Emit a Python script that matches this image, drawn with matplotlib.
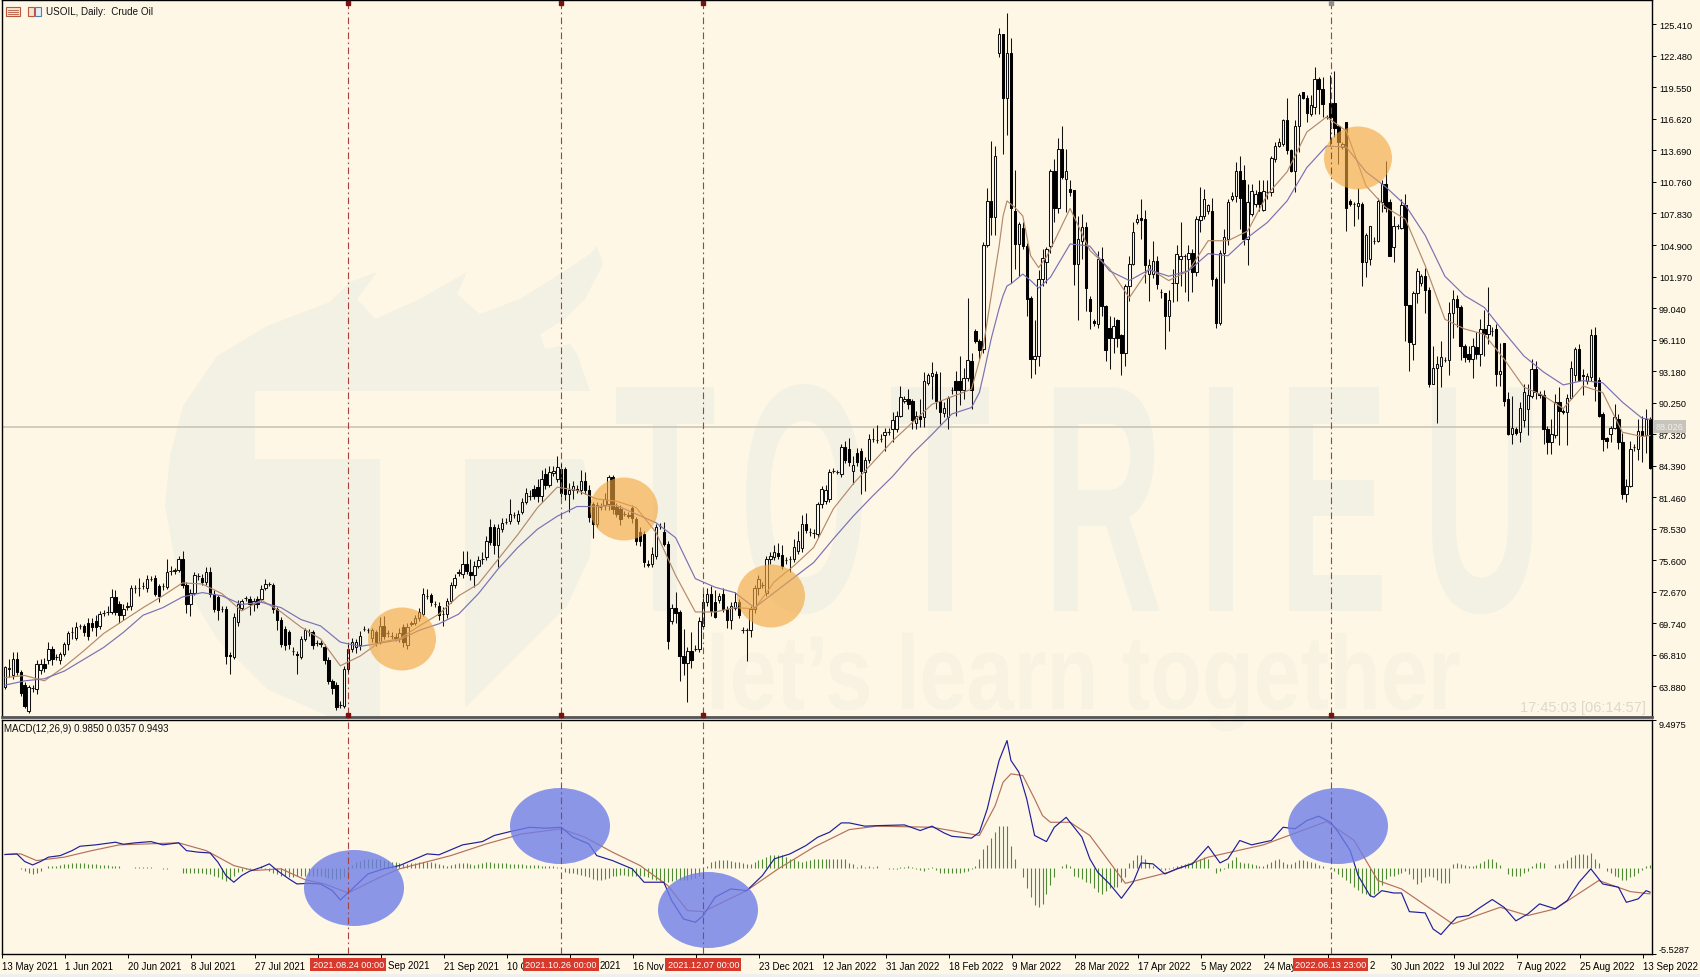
import matplotlib
matplotlib.use('Agg')
import matplotlib.pyplot as plt
from matplotlib.patches import Ellipse, Rectangle, Polygon
from matplotlib.patheffects import AbstractPathEffect
from matplotlib.transforms import Affine2D

BG = '#FEF7E6'
WM = '#F3F1E3'
FONT = ['Liberation Sans', 'DejaVu Sans']

# candles, 10 bars per row
opens = [
    63.8, 65.5, 64.9, 66.4, 65.2, 64.0, 61.6, 63.7, 63.6, 65.4,
    66.0, 66.3, 67.4, 66.6, 66.3, 66.9, 67.8, 68.9, 68.4, 69.5,
    69.5, 69.8, 69.8, 70.0, 69.5, 70.7, 70.8, 70.8, 72.2, 71.5,
    70.5, 71.3, 71.4, 73.0, 73.0, 73.2, 73.0, 73.9, 74.0, 73.2,
    73.2, 73.1, 74.6, 74.6, 74.7, 75.7, 73.3, 71.5, 72.6, 74.1,
    74.0, 73.6, 74.5, 72.5, 72.2, 71.1, 71.1, 66.8, 66.6, 69.9,
    71.2, 72.1, 72.0, 71.5, 72.0, 72.0, 73.0, 73.4, 73.3, 71.1,
    70.1, 69.2, 68.9, 67.2, 66.9, 66.6, 68.3, 68.9, 68.9, 67.9,
    67.8, 67.5, 66.3, 64.4, 64.0, 62.2, 62.1, 65.5, 67.4, 67.5,
    67.7, 69.2, 69.1, 68.4, 68.9, 68.0, 69.5, 68.8, 68.6, 68.5,
    68.4, 69.4, 67.7, 69.7, 69.8, 70.2, 70.6, 72.3, 72.4, 71.5,
    71.4, 70.6, 70.6, 71.8, 73.3, 74.4, 74.3, 75.3, 74.5, 74.2,
    75.1, 75.7, 75.9, 78.7, 78.7, 77.0, 78.5, 79.2, 79.3, 79.8,
    79.3, 80.1, 81.0, 81.6, 82.2, 82.4, 81.6, 83.6, 82.6, 83.7,
    83.2, 84.1, 84.1, 81.8, 82.1, 82.2, 82.1, 83.0, 82.1, 80.8,
    79.0, 80.6, 80.7, 80.8, 83.3, 80.6, 80.4, 79.9, 79.8, 80.5,
    79.4, 78.2, 78.0, 75.3, 75.3, 76.0, 78.8, 78.2, 77.1, 70.0,
    71.2, 70.8, 66.7, 66.1, 67.2, 67.4, 67.4, 69.5, 71.7, 72.5,
    71.7, 71.9, 72.5, 71.1, 70.1, 71.2, 71.7, 69.1, 69.1, 69.1,
    71.1, 73.0, 73.3, 72.6, 75.7, 75.9, 76.3, 76.1, 75.6, 75.7,
    75.7, 76.5, 76.7, 79.0, 78.2, 78.1, 78.0, 80.8, 81.1, 81.3,
    83.9, 83.8, 83.6, 86.1, 85.9, 83.9, 85.6, 85.8, 83.8, 84.9,
    86.9, 86.8, 86.9, 87.2, 87.5, 87.8, 87.8, 89.0, 90.4, 90.6,
    90.4, 88.4, 89.0, 88.9, 92.1, 92.7, 92.9, 90.4, 89.3, 88.9,
    91.4, 92.3, 92.3, 91.4, 92.5, 94.1, 96.9, 96.0, 95.2, 104.9,
    109.0, 107.5, 122.7, 124.5, 118.6, 122.7, 108.1, 105.0, 106.5, 104.8,
    100.0, 94.3, 94.6, 101.7, 103.3, 104.8, 111.8, 108.3, 113.8, 111.0,
    110.1, 110.0, 103.1, 105.3, 106.6, 99.9, 97.8, 97.6, 103.6, 99.2,
    97.2, 96.3, 97.9, 96.5, 94.9, 101.1, 103.1, 107.0, 107.4, 107.3,
    102.2, 102.2, 103.4, 100.5, 100.4, 98.3, 101.4, 101.4, 103.6, 103.9,
    103.6, 104.2, 102.4, 107.2, 107.6, 108.1, 108.1, 101.7, 97.7, 104.2,
    105.5, 109.2, 109.5, 111.8, 110.9, 105.5, 107.8, 108.7, 109.8, 108.2,
    109.8, 109.8, 112.9, 114.1, 114.3, 116.5, 113.7, 111.8, 116.0, 119.1,
    118.6, 117.1, 117.7, 120.3, 119.4, 116.8, 118.1, 118.1, 116.0, 114.0,
    116.3, 109.0, 108.7, 108.5, 108.7, 103.3, 103.6, 105.3, 105.3, 108.9,
    110.6, 108.9, 104.7, 106.7, 106.5, 108.6, 99.3, 95.7, 100.4, 101.4,
    102.0, 100.7, 92.0, 93.5, 93.7, 94.2, 94.2, 98.6, 99.9, 99.1,
    95.5, 94.8, 94.3, 95.4, 94.8, 97.1, 96.6, 96.9, 97.1, 92.9,
    95.8, 90.6, 87.3, 87.8, 87.5, 88.6, 89.7, 90.9, 93.4, 91.1,
    91.0, 87.8, 86.6, 87.2, 90.3, 89.5, 89.4, 90.7, 92.8, 95.2,
    92.8, 92.3, 92.6, 96.5, 92.4, 89.2, 87.0, 87.3, 87.9, 88.7,
    86.6, 81.8, 82.5, 86.1, 85.9, 87.6, 87.2, 88.7,
]
highs = [
    65.8, 66.4, 67.1, 67.1, 65.4, 64.3, 64.0, 64.0, 66.3, 66.4,
    66.5, 68.0, 67.6, 66.9, 67.1, 68.0, 69.0, 69.4, 69.9, 69.7,
    69.7, 70.2, 70.2, 70.5, 70.9, 71.0, 71.4, 72.9, 72.8, 71.8,
    71.5, 71.7, 73.3, 73.3, 74.0, 73.6, 74.2, 74.1, 74.2, 73.4,
    73.5, 75.7, 75.1, 74.9, 76.0, 76.5, 73.6, 72.9, 74.5, 74.4,
    74.3, 75.0, 75.0, 72.8, 72.4, 71.4, 71.4, 67.1, 70.7, 71.9,
    72.0, 72.3, 72.3, 72.1, 72.3, 73.3, 73.9, 73.6, 73.5, 71.3,
    70.3, 69.5, 69.1, 67.5, 67.2, 68.6, 69.3, 69.2, 69.1, 68.2,
    68.2, 67.8, 66.6, 64.6, 64.3, 62.5, 65.8, 67.8, 68.4, 68.3,
    69.0, 69.5, 69.3, 69.3, 69.1, 70.3, 70.4, 69.1, 68.9, 68.8,
    69.3, 69.7, 69.8, 70.0, 70.5, 71.2, 73.0, 72.9, 72.6, 71.8,
    71.7, 71.3, 72.1, 73.6, 74.3, 74.8, 76.5, 76.5, 75.7, 75.5,
    76.0, 76.4, 77.9, 79.4, 79.0, 79.0, 79.5, 79.5, 81.3, 80.1,
    80.3, 81.4, 82.3, 82.1, 82.6, 83.2, 84.0, 84.2, 84.4, 84.4,
    85.3, 84.6, 84.3, 82.8, 83.0, 82.6, 84.0, 83.8, 82.6, 81.0,
    81.0, 80.9, 81.9, 83.5, 83.5, 80.9, 80.7, 80.2, 80.1, 80.7,
    79.6, 78.7, 78.3, 75.6, 76.8, 79.0, 79.1, 79.2, 77.4, 71.5,
    72.7, 71.0, 69.2, 67.5, 68.9, 67.7, 70.3, 72.8, 73.0, 73.2,
    72.8, 72.6, 73.0, 71.4, 71.7, 72.7, 72.0, 69.4, 69.3, 71.4,
    73.3, 74.2, 73.6, 76.0, 76.4, 77.0, 77.2, 77.0, 75.9, 76.0,
    77.6, 78.3, 79.8, 80.0, 78.6, 78.5, 81.0, 82.5, 82.6, 84.1,
    84.2, 84.0, 86.4, 86.7, 87.0, 85.3, 86.0, 86.0, 85.2, 87.3,
    87.9, 88.2, 87.3, 87.9, 87.9, 89.4, 89.5, 91.8, 90.9, 91.5,
    90.6, 89.5, 90.6, 93.1, 93.0, 94.0, 93.2, 93.1, 90.3, 90.9,
    91.7, 93.2, 94.6, 93.5, 100.0, 94.9, 97.1, 96.2, 105.2, 110.2,
    114.6, 114.1, 125.1, 124.5, 126.5, 124.1, 111.9, 107.0, 107.0, 105.1,
    100.2, 97.9, 102.6, 104.5, 104.7, 112.0, 112.9, 114.8, 116.0, 113.8,
    110.9, 110.0, 107.6, 107.8, 107.0, 100.2, 98.0, 104.3, 104.7, 99.3,
    98.3, 98.2, 98.0, 96.6, 101.3, 103.9, 107.0, 107.8, 109.2, 108.2,
    103.6, 105.3, 103.9, 100.8, 100.4, 100.7, 102.7, 104.9, 107.0, 104.1,
    104.9, 104.5, 107.6, 110.3, 110.1, 108.7, 109.3, 101.9, 104.4, 106.4,
    109.2, 109.8, 112.6, 113.2, 112.3, 110.6, 110.6, 110.0, 110.9, 110.9,
    110.9, 113.2, 114.5, 114.8, 116.6, 118.6, 113.8, 116.5, 119.0, 119.1,
    118.8, 118.8, 121.4, 120.5, 120.5, 117.0, 120.7, 121.1, 116.1, 114.5,
    116.3, 109.2, 108.9, 110.2, 108.9, 106.0, 106.7, 105.6, 109.3, 110.9,
    112.7, 109.2, 107.6, 106.9, 109.2, 109.6, 99.3, 100.6, 102.8, 102.2,
    102.8, 101.0, 95.5, 94.6, 96.0, 94.5, 99.6, 100.7, 100.3, 99.3,
    95.7, 95.5, 96.3, 96.8, 98.0, 98.9, 101.0, 97.3, 97.6, 95.8,
    95.8, 91.2, 90.9, 88.0, 90.3, 92.0, 92.0, 94.3, 94.1, 91.3,
    91.4, 88.1, 88.7, 91.1, 91.7, 89.7, 91.1, 94.1, 95.4, 95.7,
    93.4, 93.0, 97.1, 97.3, 92.6, 89.4, 87.1, 88.1, 90.1, 89.2,
    87.4, 83.2, 86.7, 86.4, 88.7, 89.0, 89.7, 88.9,
]
lows = [
    63.6, 64.8, 64.6, 64.9, 63.0, 61.9, 61.4, 63.4, 63.2, 65.0,
    65.2, 66.0, 65.9, 66.3, 66.0, 66.7, 67.3, 68.3, 68.2, 69.2,
    68.6, 68.2, 69.0, 68.6, 69.2, 70.4, 70.5, 70.6, 70.5, 69.8,
    70.1, 71.0, 71.0, 72.6, 72.3, 72.9, 72.7, 73.7, 72.3, 71.7,
    72.8, 72.9, 74.2, 74.3, 74.5, 73.0, 70.7, 70.4, 72.4, 73.8,
    73.3, 73.3, 72.2, 70.8, 70.1, 70.8, 66.0, 65.0, 66.4, 69.5,
    71.0, 71.8, 70.5, 70.9, 71.2, 71.8, 72.8, 73.2, 70.7, 69.1,
    67.5, 67.3, 67.4, 66.8, 65.0, 66.4, 68.1, 68.6, 67.4, 67.6,
    67.5, 66.0, 64.1, 63.2, 61.7, 61.9, 61.9, 65.0, 67.1, 67.0,
    67.3, 69.0, 68.8, 68.0, 67.6, 67.8, 68.3, 68.5, 68.3, 68.1,
    68.0, 67.5, 67.4, 69.5, 69.6, 70.0, 70.4, 72.0, 71.4, 71.3,
    70.1, 69.5, 70.2, 71.6, 73.0, 74.1, 74.0, 74.3, 73.8, 73.1,
    74.9, 75.3, 75.6, 77.0, 76.2, 75.0, 78.2, 79.0, 79.0, 79.5,
    79.0, 79.9, 80.8, 81.2, 81.3, 81.0, 81.0, 82.2, 82.4, 83.4,
    82.9, 81.5, 81.2, 80.1, 81.3, 81.9, 81.8, 81.8, 79.2, 77.7,
    78.7, 80.3, 80.3, 80.3, 79.9, 79.6, 78.9, 79.7, 79.5, 79.1,
    77.0, 76.9, 75.0, 75.0, 75.0, 75.7, 78.5, 76.9, 67.4, 69.7,
    69.8, 64.4, 64.9, 62.4, 65.6, 67.2, 67.1, 69.2, 71.4, 70.4,
    70.2, 71.6, 70.8, 69.3, 69.2, 71.0, 70.2, 68.8, 66.2, 68.5,
    70.7, 72.4, 73.0, 72.3, 75.3, 75.6, 75.7, 74.8, 75.3, 74.5,
    75.4, 76.2, 76.4, 78.1, 77.9, 77.7, 77.7, 80.5, 80.8, 81.0,
    83.7, 83.6, 83.3, 84.6, 84.4, 82.7, 84.4, 81.8, 82.0, 84.6,
    86.6, 86.5, 86.6, 85.8, 87.2, 86.6, 87.5, 88.9, 90.2, 89.7,
    87.8, 87.8, 88.0, 88.0, 91.9, 90.6, 89.7, 88.3, 88.9, 87.8,
    91.1, 89.0, 90.0, 90.6, 92.3, 89.7, 95.8, 94.3, 94.9, 104.7,
    105.8, 105.8, 122.4, 113.4, 115.1, 101.4, 102.7, 102.0, 104.5, 98.3,
    92.5, 92.9, 93.7, 101.1, 101.4, 104.2, 107.0, 107.9, 111.0, 108.0,
    109.5, 101.2, 97.9, 103.6, 98.8, 97.1, 97.4, 97.2, 98.3, 94.1,
    93.4, 94.9, 95.4, 92.8, 93.7, 99.7, 103.0, 106.9, 105.5, 101.4,
    99.7, 101.8, 100.8, 100.0, 95.2, 96.9, 99.6, 99.7, 101.1, 100.5,
    99.7, 100.5, 102.0, 106.1, 107.3, 107.8, 101.1, 97.2, 97.5, 101.4,
    104.9, 109.0, 108.9, 106.4, 104.9, 103.0, 107.6, 108.4, 108.1, 108.1,
    109.2, 109.5, 112.6, 114.0, 114.1, 113.4, 111.7, 109.8, 113.5, 118.5,
    116.3, 116.9, 117.1, 117.1, 116.8, 116.6, 114.1, 114.9, 112.4, 113.8,
    106.2, 108.5, 106.7, 107.3, 101.1, 101.9, 103.0, 105.0, 105.2, 108.0,
    108.0, 103.9, 103.3, 106.4, 106.4, 96.0, 93.2, 94.2, 99.5, 101.1,
    98.6, 91.7, 92.0, 88.4, 91.7, 94.0, 92.8, 96.3, 97.3, 94.2,
    94.0, 94.0, 92.5, 94.3, 93.7, 94.6, 95.7, 96.4, 91.8, 91.8,
    89.9, 87.2, 86.4, 87.2, 86.6, 88.0, 87.2, 90.7, 90.6, 90.7,
    86.4, 85.5, 85.5, 87.0, 86.3, 89.2, 86.3, 90.6, 92.3, 92.3,
    91.0, 92.0, 92.3, 90.4, 88.9, 85.8, 86.0, 86.6, 87.8, 85.9,
    81.3, 81.0, 82.4, 85.8, 84.9, 84.7, 85.6, 84.1,
]
closes = [
    65.7, 65.6, 66.4, 65.2, 63.3, 62.1, 63.8, 63.7, 66.0, 66.0,
    65.6, 67.4, 66.4, 66.6, 66.9, 67.8, 68.8, 68.9, 69.4, 69.5,
    68.9, 68.6, 69.4, 69.4, 70.6, 70.7, 70.8, 72.2, 70.8, 70.5,
    71.1, 71.4, 73.0, 73.0, 73.0, 73.2, 73.9, 73.9, 72.5, 72.3,
    73.2, 74.5, 74.6, 74.7, 75.7, 73.3, 71.5, 72.6, 74.2, 74.1,
    73.6, 74.5, 72.5, 71.1, 71.0, 71.1, 66.7, 66.7, 70.3, 71.5,
    71.8, 72.1, 71.5, 71.8, 71.5, 72.9, 73.4, 73.4, 71.1, 70.1,
    67.8, 67.7, 67.8, 67.2, 66.8, 68.3, 69.1, 68.9, 67.7, 67.9,
    67.9, 66.3, 64.4, 63.7, 62.0, 62.2, 65.5, 67.4, 68.0, 68.0,
    68.6, 69.2, 69.1, 69.1, 68.0, 69.5, 68.6, 68.8, 68.6, 68.4,
    68.8, 68.0, 69.4, 69.8, 70.2, 70.8, 72.5, 72.3, 71.7, 71.5,
    70.5, 70.6, 71.8, 73.3, 74.0, 74.5, 75.3, 74.6, 74.2, 75.1,
    75.6, 75.7, 77.4, 77.3, 77.0, 78.6, 79.1, 79.2, 79.9, 79.8,
    79.9, 81.0, 81.9, 81.6, 81.6, 81.6, 83.2, 82.6, 83.8, 83.9,
    84.3, 81.9, 81.8, 82.1, 82.5, 82.1, 83.0, 82.1, 79.6, 79.0,
    80.7, 80.6, 81.3, 83.3, 80.4, 79.9, 79.4, 79.9, 79.7, 79.5,
    77.4, 77.4, 75.4, 75.2, 76.2, 78.7, 78.8, 77.1, 68.1, 71.2,
    70.7, 66.7, 66.1, 67.2, 66.3, 67.4, 70.0, 71.7, 72.5, 70.9,
    70.3, 72.3, 71.1, 70.1, 71.4, 71.7, 70.5, 69.1, 69.1, 71.1,
    73.0, 73.9, 73.3, 75.7, 76.0, 76.4, 76.0, 75.1, 75.6, 75.7,
    76.8, 77.4, 79.0, 78.4, 78.2, 78.1, 80.8, 82.2, 82.1, 83.8,
    83.9, 83.8, 86.1, 84.9, 84.7, 84.5, 84.7, 83.9, 84.9, 86.9,
    86.9, 86.8, 86.9, 87.5, 87.5, 88.6, 89.0, 90.8, 90.6, 90.1,
    88.6, 89.0, 88.7, 92.3, 92.8, 93.0, 90.4, 89.4, 89.8, 90.7,
    91.4, 91.4, 91.4, 92.5, 94.2, 91.4, 96.0, 95.1, 104.9, 109.0,
    107.5, 113.2, 124.5, 118.6, 122.7, 108.3, 105.0, 106.9, 104.8, 99.9,
    94.3, 94.6, 101.7, 103.7, 104.5, 111.8, 108.3, 113.8, 111.2, 111.8,
    109.8, 103.1, 105.5, 106.6, 100.9, 98.8, 97.7, 103.6, 99.2, 95.1,
    96.3, 97.4, 96.3, 94.9, 101.1, 103.1, 106.1, 107.3, 107.2, 103.0,
    103.0, 103.4, 101.3, 100.5, 98.3, 99.8, 101.4, 104.1, 103.9, 103.9,
    104.2, 102.4, 107.3, 107.6, 109.2, 108.6, 101.7, 97.7, 104.2, 105.6,
    108.9, 109.5, 111.8, 109.3, 105.5, 108.9, 109.9, 109.6, 108.7, 109.9,
    109.8, 113.0, 114.1, 114.5, 116.5, 113.7, 111.8, 116.0, 118.8, 118.6,
    117.2, 117.9, 120.3, 119.4, 118.0, 116.8, 116.8, 115.8, 114.5, 114.3,
    108.3, 108.7, 108.7, 108.8, 103.3, 105.8, 106.7, 105.3, 109.0, 110.6,
    108.3, 103.9, 106.7, 106.7, 108.6, 99.3, 95.9, 100.4, 102.5, 102.0,
    100.7, 92.0, 93.5, 93.8, 94.5, 94.2, 98.6, 99.9, 99.1, 95.5,
    94.5, 94.3, 95.5, 94.8, 97.1, 96.6, 97.5, 96.9, 92.9, 93.2,
    90.4, 87.3, 87.9, 87.4, 89.8, 91.2, 91.0, 93.4, 91.2, 91.0,
    87.8, 86.6, 87.3, 90.3, 89.5, 89.4, 90.7, 93.5, 95.2, 92.4,
    92.7, 92.7, 96.5, 91.8, 89.0, 86.9, 86.7, 87.9, 88.9, 86.6,
    81.8, 82.5, 85.9, 86.1, 87.6, 87.2, 88.7, 84.2,
]

# moving averages, read every 5 bars and closer around the March 2022 spike
fast_bars = list(range(0, 250, 5)) + [248, 250, 252, 253, 254, 256, 258, 260, 262, 264] \
    + list(range(265, 420, 5)) + [417]
ma_fast = [
    64.7, 64.9, 64.4, 65.7, 67.2, 68.8, 70.0, 71.2, 72.3, 73.5, 73.4, 72.5,
    70.9, 71.9, 70.8, 69.4, 68.3, 65.8, 66.7, 68.0, 68.3, 69.5, 70.6, 72.3,
    73.4, 75.7, 78.0, 80.5, 82.4, 82.1, 81.3, 81.1, 80.5, 78.2, 74.2, 70.8,
    70.8, 71.2, 71.1, 73.6, 75.1, 76.8, 80.4, 82.7, 84.7, 86.7, 88.4, 90.1,
    90.8, 91.5,
    95.5, 100.2, 104.8, 107.6, 109.0, 108.4, 107.6, 103.9, 102.8, 103.8,
    104.5, 108.3, 104.4, 102.7, 100.0, 102.7,
    101.6, 102.5, 105.3, 105.3, 106.2, 109.6, 111.7, 115.4, 116.8, 115.5,
    110.4, 108.4, 107.3, 103.0, 98.0, 97.1, 96.6, 94.3, 91.7, 90.9, 89.7,
    91.8, 91.2, 87.5, 87.1, 87.2,
]
slow_bars = list(range(0, 250, 5)) + [247, 248, 250, 252, 253, 254, 255, 258, 260, 262] \
    + list(range(265, 420, 5)) + [417]
ma_slow = [
    64.0, 64.4, 64.6, 65.3, 66.4, 67.5, 68.9, 70.5, 71.2, 72.2, 72.6, 72.3,
    71.5, 71.7, 71.2, 70.1, 69.5, 68.0, 67.6, 67.9, 68.2, 69.1, 69.7, 70.6,
    72.5, 74.8, 76.8, 78.5, 79.7, 80.6, 80.6, 80.7, 79.9, 79.1, 77.7, 73.9,
    73.1, 72.6, 71.2, 72.6, 74.0, 75.4, 77.6, 79.7, 81.6, 83.4, 85.5, 87.3,
    89.2, 89.8,
    91.2, 92.8, 96.2, 99.0, 100.2, 101.1, 101.3, 102.2, 101.6, 100.9,
    101.9, 105.0, 104.8, 102.5, 101.6, 102.6,
    102.0, 102.5, 104.1, 103.9, 105.6, 107.0, 109.0, 112.1, 114.1, 114.0,
    111.7, 110.3, 108.6, 105.8, 102.0, 100.2, 99.1, 96.8, 94.6, 93.1, 91.9,
    92.3, 92.1, 90.3, 88.8, 88.7,
]

# MACD pane
macd_bars = [
    0, 3, 5, 7, 9, 11, 14, 17, 19, 23,
    28, 30, 33, 37, 40, 44, 46, 49, 52, 54,
    56, 58, 60, 62, 65, 67, 69, 72, 74, 77,
    80, 83, 85, 88, 92, 96, 100, 103, 107, 110,
    116, 121, 124, 128, 133, 137, 141, 144, 148, 150,
    154, 159, 162, 167, 169, 172, 175, 177, 180, 184,
    188, 192, 195, 199, 203, 206, 209, 212,
    214, 218, 222, 228, 232, 235, 238, 240, 245, 247,
    249, 250, 252, 254, 255, 257, 259, 261, 264, 266,
    269, 271, 273, 275, 277, 280, 283, 286, 288, 291,
    294, 297, 301, 305, 308, 310, 313, 316, 319, 321,
    324, 327, 330, 333, 336, 338, 341, 343, 346, 347,
    349, 352, 354, 356, 360, 362, 364, 366, 368, 371,
    374, 377, 380, 383, 386, 389, 393, 396, 399, 402,
    405, 409, 411, 414, 416, 417,
]
macd_vals = [
    0.86, 0.90, 0.41, 0.19, 0.41, 0.69, 0.79, 1.11, 1.39, 1.48,
    1.65, 1.52, 1.61, 1.69, 1.48, 1.61, 1.11, 1.01, 0.96, 0.36,
    -0.49, -0.92, -0.49, -0.21, 0.04, 0.26, -0.17, -0.71, -1.03, -0.99,
    -1.03, -1.46, -2.06, -1.35, -0.39, -0.06, 0.15, 0.47, 0.90, 0.84,
    1.48, 1.69, 2.08, 2.33, 2.61, 2.55, 2.61, 1.97, 1.54, 0.79,
    0.47, -0.06, -0.92, -0.92, -2.10, -3.28, -3.49, -3.06, -1.88, -1.35,
    -1.46, -0.49, 0.58, 0.90, 1.43, 1.97, 2.29, 2.89,
    2.89, 2.68, 2.72, 2.76, 2.40, 2.68, 2.25, 2.03, 1.91, 2.29,
    3.79, 4.86, 6.90, 8.18, 6.90, 6.15, 4.43, 2.08, 1.69, 2.61,
    3.25, 2.61, 1.97, 0.58, -0.28, -1.03, -1.95, -0.92, 0.32, 0.26,
    -0.39, -0.06, 0.26, 1.39, 0.32, 0.58, 1.76, 1.48, 1.65, 1.76,
    2.61, 2.51, 3.04, 3.32, 2.93, 2.29, 1.11, -0.49, -1.78, -1.88,
    -1.46, -1.61, -1.61, -2.81, -2.89, -3.92, -4.28, -3.70, -3.17, -3.06,
    -2.53, -2.03, -2.53, -3.40, -2.96, -2.31, -2.63, -2.10, -0.92, -0.06,
    -1.03, -1.24, -2.21, -1.99, -1.46, -1.56,
]
signal_bars = [
    0, 4, 8, 15, 22, 29, 44, 51, 58, 63, 70, 76, 81, 87, 95, 100, 113, 122, 131,
    141, 147, 154, 161, 168, 173, 177, 188, 196, 205, 214, 221, 235, 247, 251, 253, 255,
    258, 261, 263, 265, 270, 275, 284, 295, 305, 319, 335, 342, 348, 354, 367, 379, 386,
    393, 404, 412, 417,
]
signal_vals = [
    0.86, 0.90, 0.47, 0.69, 1.11, 1.48, 1.61, 1.11, 0.15, -0.17, -0.06, -0.75,
    -1.03, -1.61, -0.60, -0.06, 0.79, 1.54, 2.18, 2.51, 1.97, 1.01, 0.15, -1.13,
    -2.74, -2.81, -1.46, -0.06, 1.33, 2.46, 2.68, 2.61, 2.08, 4.00, 5.50, 6.04,
    5.93, 4.43, 3.36, 2.93, 2.93, 2.08, -0.99, -0.28, 0.69, 1.48, 2.98, 1.76, -0.81,
    -1.35, -3.60, -2.53, -3.06, -2.63, -0.81, -1.52, -1.67,
]
osma = [
    -0.02, -0.03, -0.03, -0.02, -0.1, -0.2, -0.3, -0.4, -0.35, -0.2,
    0.0, 0.1, 0.1, 0.15, 0.2, 0.25, 0.25, 0.3, 0.3, 0.3,
    0.3, 0.25, 0.25, 0.25, 0.2, 0.2, 0.2, 0.15, 0.1, 0.1,
    0, 0, 0, 0.05, 0.05, 0.05, 0.05, 0.05, 0, 0,
    -0.05, -0.05, 0, 0, 0, -0.3, -0.35, -0.35, -0.3, -0.3,
    -0.35, -0.4, -0.4, -0.5, -0.6, -0.7, -0.85, -0.7, -0.5, -0.25,
    -0.2, -0.1, -0.05, 0, -0.05, 0.1, -0.1, -0.2, -0.3, -0.4,
    -0.5, -0.55, -0.6, -0.6, -0.55, -0.5, -0.5, -0.55, -0.5, -0.5,
    -0.55, -0.6, -0.65, -0.7, -0.7, -0.7, -0.6, -0.5, 0.2, 0.35,
    0.45, 0.55, 0.6, 0.6, 0.6, 0.55, 0.5, 0.45, 0.4, 0.35,
    0.3, 0.25, 0.25, 0.3, 0.3, 0.35, 0.4, 0.4, 0.35, 0.3,
    0.25, 0.2, 0.15, 0.2, 0.25, 0.3, 0.3, 0.3, 0.25, 0.2,
    0.25, 0.3, 0.35, 0.35, 0.3, 0.3, 0.3, 0.3, 0.25, 0.25,
    0.25, 0.25, 0.2, 0.2, 0.2, 0.2, 0.15, 0.15, 0.1, 0.1,
    0.05, 0.05, -0.25, -0.3, -0.35, -0.4, -0.45, -0.5, -0.6, -0.7,
    -0.75, -0.75, -0.7, -0.65, -0.55, -0.5, -0.45, -0.45, -0.5, -0.55,
    -0.55, -0.5, -0.55, -0.6, -0.7, -0.8, -0.85, -0.9, -0.9, -0.85,
    -0.8, -0.8, -0.8, -0.75, -0.7, -0.65, -0.55, -0.3, 0.1, 0.35,
    0.45, 0.5, 0.5, 0.5, 0.45, 0.4, 0.35, 0.3, 0.25, 0.25,
    0.35, 0.5, 0.6, 0.7, 0.8, 0.85, 0.85, 0.8, 0.7, 0.6,
    0.55, 0.45, 0.4, 0.45, 0.5, 0.55, 0.6, 0.6, 0.6, 0.55,
    0.55, 0.55, 0.55, 0.55, 0.3, 0.25, 0.05, 0.2, 0.05, 0.1,
    0.05, 0.1, 0, 0, -0.05, -0.1, -0.05, 0.03, 0.08, 0.1,
    0.05, -0.05, -0.15, -0.2, -0.05, 0.05, -0.15, -0.3, -0.35, -0.35,
    -0.35, -0.3, -0.3, -0.25, -0.2, -0.1, 0.1, 0.6, 1.2, 1.5,
    1.9, 2.3, 2.7, 2.7, 2.7, 1.4, 0.6, 0, -0.6, -1.3,
    -1.9, -2.4, -2.5, -2.3, -1.7, -1.1, -0.6, 0, 0.1, 0.25,
    0.1, -0.5, -0.6, -0.7, -0.9, -1.0, -1.3, -1.55, -1.7, -1.5,
    -1.3, -1.2, -1.2, -0.9, -0.6, 0.3, 0.5, 0.85, 0.8, 0.6,
    0.3, 0.1, 0, -0.1, -0.15, -0.1, 0.05, 0.1, 0.2, 0.25,
    0.3, 0.35, 0.45, 0.6, 0.7, 0.6, 0, -0.3, -0.2, -0.1,
    0.3, 0.5, 0.7, 0.35, 0.3, 0.3, 0.25, 0.2, 0.15, 0.15,
    0.25, 0.4, 0.5, 0.55, 0.4, 0.25, 0.25, 0.4, 0.5, 0.5,
    0.45, 0.35, 0.3, 0.2, 0.1, 0, -0.05, -0.2, -0.4, -0.6,
    -0.8, -1.0, -1.2, -1.4, -1.6, -1.7, -1.8, -1.7, -1.5, -1.1,
    -0.7, -0.5, -0.5, -0.4, -0.3, -0.2, -0.4, -0.7, -1.05, -0.9,
    -0.6, -0.5, -0.6, -0.75, -0.95, -1.0, -0.95, 0.25, 0.3, 0.25,
    0.2, 0.15, 0.15, 0.2, 0.3, 0.45, 0.55, 0.6, 0.35, 0.2,
    0, -0.4, -0.5, -0.55, -0.5, -0.3, -0.2, 0.15, 0.3, 0.4,
    0.3, 0, 0, 0.2, 0.25, 0.3, 0.5, 0.7, 0.85, 0.9,
    0.9, 0.85, 0.95, 0.6, 0.3, 0, -0.2, -0.3, -0.5, -0.6,
    -0.75, -0.8, -0.6, -0.5, -0.3, -0.15, 0.1, 0.2,
]

price_ticks = [63.88, 66.81, 69.74, 72.67, 75.6, 78.53, 81.46, 84.39, 87.32, 90.25, 93.18,
               96.11, 99.04, 101.97, 104.9, 107.83, 110.76, 113.69, 116.62, 119.55, 122.48, 125.41]
date_bars = [16 * k for k in range(27)]
# the red time labels hide some dates, only what is visible is kept
date_labels = ['13 May 2021', '1 Jun 2021', '20 Jun 2021', '8 Jul 2021', '27 Jul 2021', '',
               '', '21 Sep 2021', '10 O', '', '16 Nov', '',
               '23 Dec 2021', '12 Jan 2022', '31 Jan 2022', '18 Feb 2022', '9 Mar 2022', '28 Mar 2022',
               '17 Apr 2022', '5 May 2022', '24 May', '', '30 Jun 2022', '19 Jul 2022',
               '7 Aug 2022', '25 Aug 2022', '13 Sep 2022']
date_tails = [('Sep 2021', 388), ('2021', 600), ('2', 1370)]
marker_bars = [87, 141, 177, 336]
marker_labels = ['2021.08.24 00:00', '2021.10.26 00:00', '2021.12.07 00:00', '2022.06.13 23:00']
last_price = 88.026
brand_letters = ['T', 'O', 'T', 'R', 'I', 'E', 'U']
brand_centres = [665, 804, 940, 1103, 1221, 1333, 1482]

W, H = 1700, 978
fig = plt.figure(figsize=(W / 100, H / 100), dpi=100, facecolor=BG)


class TallText(AbstractPathEffect):
    # the watermark font is condensed in the original, so stretch glyphs upward from the baseline
    def __init__(self, factor):
        super().__init__()
        self.factor = factor

    def draw_path(self, renderer, gc, tpath, affine, rgbFace=None):
        renderer.draw_path(gc, tpath, Affine2D().scale(1, self.factor) + affine, rgbFace)


def box(x0, y0, x1, y1):
    # pixel box (y from the top) to figure fractions
    return [x0 / W, 1 - y1 / H, (x1 - x0) / W, (y1 - y0) / H]


# watermark layer
wm = fig.add_axes([0, 0, 1, 1], zorder=0)
wm.set_xlim(0, W)
wm.set_ylim(H, 0)
wm.axis('off')
wm.add_patch(Polygon([(165, 507), (170, 457), (183, 407), (217, 357), (267, 327), (330, 303), (350, 283),
                      (377, 273), (357, 300), (375, 320), (420, 300), (467, 273), (457, 295), (480, 315),
                      (520, 300), (560, 275), (590, 255), (597, 247), (603, 265), (585, 300), (565, 320),
                      (540, 335), (545, 350), (570, 345), (577, 355), (590, 392), (583, 460), (593, 507),
                      (590, 557), (567, 607), (517, 657), (467, 707), (450, 718), (330, 718), (267, 690),
                      (217, 640), (177, 573)], fc=WM, ec='none'))
wm.add_patch(Rectangle((255, 392), 357, 68, fc=BG, ec='none'))
wm.add_patch(Rectangle((380, 460), 85, 258, fc=BG, ec='none'))
for letter, xc in zip(brand_letters, brand_centres):
    wm.text(xc, 612, letter, fontsize=120, fontweight='bold', family=FONT, color=WM,
            ha='center', va='baseline', path_effects=[TallText(1.95)])
wm.text(706, 710, 'let\u2019s learn together', fontsize=61, fontweight='bold', family=FONT,
        color='#F7F2E1', ha='left', va='baseline', path_effects=[TallText(1.24)])

# price pane
ax = fig.add_axes(box(2, 1, 1652, 718), zorder=2)
ax.patch.set_alpha(0)
xlim = (-0.76, 417.5)
ax.set_xlim(*xlim)
ax.set_ylim(61.04, 127.67)
bars = range(len(closes))
ax.vlines(bars, lows, highs, color='#111111', lw=0.75, zorder=2)
bull = [i for i in bars if closes[i] >= opens[i]]
bear = [i for i in bars if closes[i] < opens[i]]
ax.bar(bull, [closes[i] - opens[i] for i in bull], bottom=[opens[i] for i in bull], width=0.62,
       facecolor='#FFFDF6', edgecolor='#111111', lw=0.75, zorder=3)
ax.bar(bear, [closes[i] - opens[i] for i in bear], bottom=[opens[i] for i in bear], width=0.62,
       facecolor='black', edgecolor='black', lw=0.75, zorder=3)
ax.plot(fast_bars, ma_fast, color='#B4896A', lw=0.85, zorder=4)
ax.plot(slow_bars, ma_slow, color='#7A70B4', lw=0.85, zorder=4)
ax.axhline(last_price, color='#C9C6B8', lw=1.2, zorder=1)
ax.yaxis.tick_right()
ax.set_yticks(price_ticks)
ax.set_yticklabels([f'{p:.3f}' for p in price_ticks], family=FONT, fontsize=6.6)
ax.tick_params(axis='y', length=3, width=0.7, pad=2)
ax.set_xticks([])
for s in ax.spines.values():
    s.set_linewidth(1.0)
ax.spines['bottom'].set_color('#555555')
ax.spines['bottom'].set_linewidth(2)

# MACD pane
ax2 = fig.add_axes(box(2, 721, 1652, 955), zorder=2)
ax2.patch.set_alpha(0)
ax2.set_xlim(*xlim)
ax2.set_ylim(-5.5287, 9.4975)
ax2.vlines(range(len(osma)), 0, osma, color='#4F8A35', lw=0.8, zorder=2)
ax2.plot(signal_bars, signal_vals, color='#B4705A', lw=0.85, zorder=3)
ax2.plot(macd_bars, macd_vals, color='#1E1E9A', lw=0.85, zorder=4)
ax2.yaxis.tick_right()
ax2.set_yticks([9.4975, -5.5287])
ax2.set_yticklabels(['9.4975', '-5.5287'], family=FONT, fontsize=6.6)
ax2.get_yticklabels()[0].set_va('top')
ax2.get_yticklabels()[1].set_va('bottom')
ax2.tick_params(axis='y', length=3, width=0.7, pad=2)
ax2.set_xticks([b - 0.75 for b in date_bars])
ax2.set_xticklabels(date_labels, family=FONT, fontsize=7, ha='left')
ax2.tick_params(axis='x', length=3, width=0.7, pad=2)
for s in ax2.spines.values():
    s.set_linewidth(1.0)

# highlights, separators and chart furniture on top, in pixels
ov = fig.add_axes([0, 0, 1, 1], zorder=5)
ov.set_xlim(0, W)
ov.set_ylim(H, 0)
ov.axis('off')
for xc, yc in [(402, 640), (624, 510), (771, 597), (1358, 159)]:
    ov.add_patch(Ellipse((xc, yc), 68, 63, fc='#F2A63C', ec='none', alpha=0.62))
for xc, yc in [(354, 889), (560, 827), (708, 911), (1338, 827)]:
    ov.add_patch(Ellipse((xc, yc), 100, 76, fc='#6F7EE6', ec='none', alpha=0.8))

for i, (b, lab) in enumerate(zip(marker_bars, marker_labels)):
    xp = 5 + 3.945 * b
    top_col = '#8E8E8E' if i == 3 else '#7A1010'
    ov.plot([xp, xp], [3, 955], color='#A8403A', lw=0.8, dashes=(6, 3, 1.5, 3), zorder=3)
    ov.plot([xp], [4], marker='s', ms=3, color=top_col, zorder=4)
    ov.plot([xp], [716], marker='s', ms=3, color='#7A1010', zorder=4)
    ov.text(xp, 965.5, lab, family=FONT, fontsize=6.6, color='white', ha='center', va='center', zorder=6,
            bbox=dict(boxstyle='square,pad=0.25', fc='#D8392B', ec='none'))
for tail, xp in date_tails:
    ov.text(xp, 966, tail, family=FONT, fontsize=7, color='black', ha='left', va='center')

ov.text(1684, 427.5, f'{last_price:.3f}', family=FONT, fontsize=6.6, color='#F2EFE6', ha='right', va='center',
        bbox=dict(boxstyle='square,pad=0.2', fc='#C6C4BC', ec='none'))
ov.text(46, 12, 'USOIL, Daily:  Crude Oil', family=FONT, fontsize=7.1, va='center', color='#111111')
ov.text(4, 729, 'MACD(12,26,9) 0.9850 0.0357 0.9493', family=FONT, fontsize=7, va='center', color='#111111')
ov.text(1646, 708, '17:45:03 [06:14:57]', family=FONT, fontsize=10.5, color='#DDD9CC', ha='right', va='center')

# the two small toolbar icons
ov.add_patch(Rectangle((6, 8), 14, 9, fc='#F6E3D0', ec='#B8583F', lw=0.8))
for yy in (10.5, 12.5, 14.5):
    ov.plot([8, 18], [yy, yy], color='#B8583F', lw=0.6)
ov.add_patch(Rectangle((28, 8), 6, 9, fc='#F6E3D0', ec='#B8583F', lw=0.8))
ov.add_patch(Rectangle((35, 8), 6, 9, fc='#E4EEF6', ec='#4F7FAE', lw=0.8))

# strip along the bottom edge
ov.add_patch(Rectangle((0, 975), W, 3, fc='#EFEFEF', ec='none'))

fig.savefig('out.png', dpi=100, facecolor=BG)
